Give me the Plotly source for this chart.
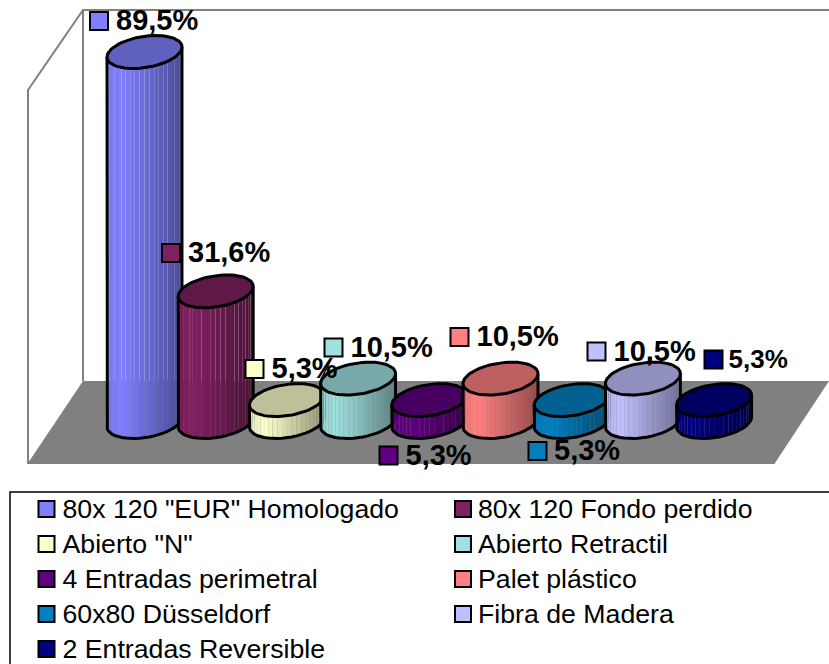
import numpy as np
import plotly.graph_objs as go

# data
categories = ['80x 120 "EUR" Homologado', '80x 120 Fondo perdido', 'Abierto "N"',
              'Abierto Retractil', '4 Entradas perimetral', 'Palet plástico',
              '60x80 Düsseldorf', 'Fibra de Madera', '2 Entradas Reversible']
values = [89.5, 31.6, 5.3, 10.5, 5.3, 10.5, 5.3, 10.5, 5.3]
colors = [(128, 128, 255), (128, 32, 96), (255, 255, 204), (160, 224, 224), (96, 0, 128),
          (255, 128, 128), (0, 128, 192), (192, 192, 255), (0, 0, 128)]

# data label placement: key centre x, centre y, font size, key-to-text gap
label_x = [99, 171, 254.5, 333.5, 388.5, 459.5, 537.5, 596.5, 713.5]
label_y = [21, 253, 369, 347.5, 455.5, 337, 451, 351.5, 359.5]
label_size = [29, 29, 29, 29, 29, 29, 29, 29, 26]
label_gap = [17, 17, 17, 17, 17, 17, 16.5, 17, 15]

# oblique projection of the 3d box, in page pixels
x0, dx = 144.5, 71.2
base_y = 422
px_per_pct = 4.134
u = np.array([37.2, -3.0])
v = np.array([4.6, -16.2])
GREY = '#808080'
TEXT_DROP = 2  # text sits a little low against its key

data = []


def rgb(c, k=1.0):
    return 'rgb(%d,%d,%d)' % tuple(round(i * k) for i in c)


def ring(cx, cy, t):
    return cx + np.cos(t) * u[0] + np.sin(t) * v[0], cy + np.cos(t) * u[1] + np.sin(t) * v[1]


def shade(f):
    if f < 0.2:
        return 0.92 + 0.08 * f / 0.2
    return 1 - 0.42 * (f - 0.2) / 0.8


def poly(x, y, fill, line=None, width=0):
    return go.Scatter(x=list(x), y=list(y), mode='lines', hoverinfo='skip',
                      fill='toself', fillcolor=fill,
                      line=dict(color=line or fill, width=width))


# floor and walls
data.append(poly([83, 829, 775, 28], [381, 381, 463, 463], GREY))
data.append(go.Scatter(x=[829, 83, 28, 28, 775], y=[10, 10, 90, 463, 463], mode='lines',
                       hoverinfo='skip', line=dict(color=GREY, width=2)))
data.append(go.Scatter(x=[83, 83], y=[10, 381], mode='lines', hoverinfo='skip',
                       line=dict(color=GREY, width=2)))

# cylinders
t0 = np.arctan2(v[0], u[0])
n_strips = 24
for i, val in enumerate(values):
    cx = x0 + i * dx
    top_y = base_y - val * px_per_pct
    ts = np.linspace(t0 + np.pi, t0 + 2 * np.pi, n_strips + 1)
    bx, by = ring(cx, base_y, ts)
    tx, ty = ring(cx, top_y, ts)
    for s in range(n_strips):
        f = (bx[s] + bx[s + 1]) / 2
        f = (f - bx[0]) / (bx[-1] - bx[0])
        data.append(poly([tx[s], tx[s + 1], bx[s + 1], bx[s]],
                         [ty[s], ty[s + 1], by[s + 1], by[s]], rgb(colors[i], shade(f))))
    # outline of the body
    data.append(go.Scatter(x=[tx[0]] + list(bx) + [tx[-1]], y=[ty[0]] + list(by) + [ty[-1]],
                           mode='lines', hoverinfo='skip', line=dict(color='black', width=3)))
    # top cap
    tt = np.linspace(0, 2 * np.pi, 73)
    ex, ey = ring(cx, top_y, tt)
    data.append(poly(ex, ey, rgb(colors[i], 0.75), 'black', 3))

# leader line of the Abierto Retractil label
data.append(go.Scatter(x=[331.7, 320], y=[358, 381.7], mode='lines', hoverinfo='skip',
                       line=dict(color='black', width=1.5)))

# data labels
for i, val in enumerate(values):
    data.append(go.Scatter(x=[label_x[i]], y=[label_y[i]], mode='markers', hoverinfo='skip',
                           marker=dict(symbol='square', size=18, color=rgb(colors[i]),
                                       line=dict(color='black', width=2))))
    data.append(go.Scatter(x=[label_x[i] + label_gap[i]], y=[label_y[i] + TEXT_DROP], mode='text',
                           hoverinfo='skip',
                           text=['<b>%s</b>' % ('%.1f%%' % val).replace('.', ',')],
                           textposition='middle right',
                           textfont=dict(family='Liberation Sans', size=label_size[i], color='black')))

# legend box, open at the right and the bottom
data.append(go.Scatter(x=[829, 10, 10], y=[492, 492, 664], mode='lines', hoverinfo='skip',
                       line=dict(color='black', width=1.5)))

# legend rows
legend_rows = [509, 544, 579, 614, 649]
for i, name in enumerate(categories):
    row, col = i // 2, i % 2
    kx = 46.5 if col == 0 else 463
    data.append(go.Scatter(x=[kx], y=[legend_rows[row]], mode='markers', hoverinfo='skip',
                           marker=dict(symbol='square', size=16, color=rgb(colors[i]),
                                       line=dict(color='black', width=2))))
    data.append(go.Scatter(x=[kx + 16 if col == 0 else kx + 15], y=[legend_rows[row] + TEXT_DROP],
                           mode='text', hoverinfo='skip',
                           text=[name], textposition='middle right',
                           textfont=dict(family='Liberation Sans', size=26.7, color='black')))

layout = go.Layout(width=829, height=664, showlegend=False,
                   margin=dict(l=0, r=0, t=0, b=0),
                   paper_bgcolor='white', plot_bgcolor='white',
                   xaxis=dict(range=[0, 829], visible=False, fixedrange=True),
                   yaxis=dict(range=[664, 0], visible=False, fixedrange=True))

fig = go.Figure(data=data, layout=layout)
fig.write_html('out.html', config={'displayModeBar': False},
               post_script="document.body.style.margin='0';")
